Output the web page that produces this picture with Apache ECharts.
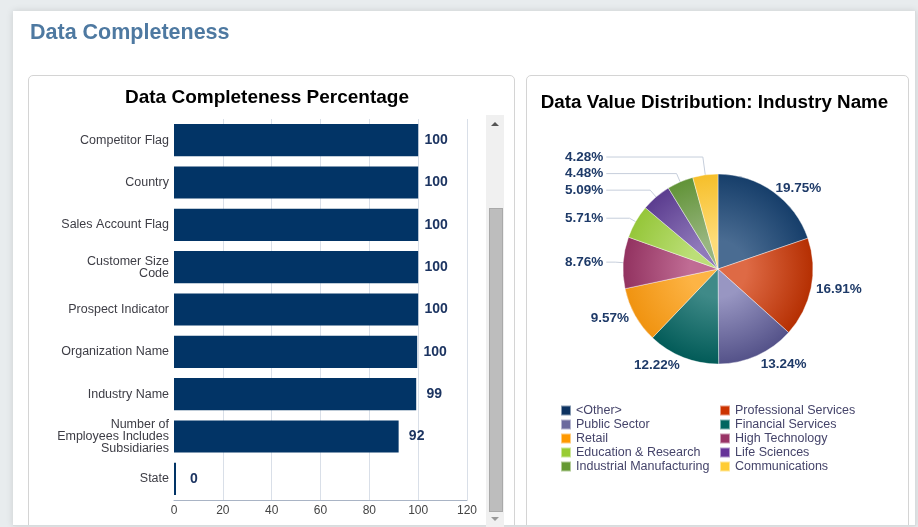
<!DOCTYPE html>
<html>
<head>
<meta charset="utf-8">
<script src="https://cdn.jsdelivr.net/npm/echarts@6/dist/echarts.min.js"></script>
<style>
html,body{margin:0;padding:0;width:918px;height:527px;overflow:hidden;background:#e8ecee;}
#card{position:absolute;left:13px;top:11px;width:902px;height:514px;background:#fff;box-shadow:0 0 7px rgba(0,0,0,0.13);border-right:1px solid #d8dcde;border-bottom:1px solid #d8dcde;overflow:hidden;}
.panel{position:absolute;top:64px;height:490px;border:1px solid #d4d4d4;border-radius:5px;background:#fff;}
#p1{left:15px;width:485px;}
#p2{left:513px;width:381px;}
#track{position:absolute;left:486px;top:115px;width:18px;height:420px;background:#f0f0f0;}
#thumb{position:absolute;left:489px;top:208px;width:12px;height:302px;background:#bdbdbd;border:1px solid #a9a9a9;}
.arrow{position:absolute;width:0;height:0;border-left:4px solid transparent;border-right:4px solid transparent;}
#up{left:491px;top:122px;border-bottom:4px solid #555;}
#down{left:491px;top:517px;border-top:4px solid #999;}
#chart{position:absolute;left:0;top:0;width:918px;height:527px;}
</style>
</head>
<body>
<div id="card">
  <div class="panel" id="p1"></div>
  <div class="panel" id="p2"></div>
</div>
<div id="track"></div>
<div id="thumb"></div>
<div class="arrow" id="up"></div>
<div class="arrow" id="down"></div>
<div id="chart"></div>
<script>
// ---- data ----
const categories = [
  'Competitor Flag',
  'Country',
  'Sales Account Flag',
  'Customer Size\nCode',
  'Prospect Indicator',
  'Organization Name',
  'Industry Name',
  'Number of\nEmployees Includes\nSubsidiaries',
  'State'
];
const completeness = [100, 100, 100, 100, 100, 99.6, 99.2, 92, 0];
const xTickMin = 0;
const xTickMax = 120;
const xTickStep = 20;

const industries = [
  '<Other>', 'Professional Services', 'Public Sector', 'Financial Services', 'Retail',
  'High Technology', 'Education & Research', 'Life Sciences', 'Industrial Manufacturing', 'Communications'
];
const shares = [19.75, 16.91, 13.24, 12.22, 9.57, 8.76, 5.71, 5.09, 4.48, 4.28];

// ---- styles ----
const solidColors = ['#0d3361', '#cc3300', '#6b6a9e', '#006660', '#ff9900', '#993366', '#99cc33', '#663399', '#669933', '#ffcc33'];
const gradLight = ['#4a6c92', '#de6a45', '#9896c2', '#3f8a88', '#fdb445', '#c06c94', '#bcdf78', '#8f79ba', '#98b680', '#fedc78'];
const gradDark  = ['#163e6a', '#b52f02', '#545289', '#025b58', '#f09310', '#923260', '#95c639', '#5b3c8f', '#619337', '#f6bf2a'];
// leader-line lengths per slice (style only)
const lineLen = [4, 5, 9, 9, 7, 8, 7, 9, 9, 18];
const FONT = '"Liberation Sans", Arial, Helvetica, sans-serif';
const PIE_CX = 718, PIE_CY = 269, PIE_R = 95;
const PIE_VIEW = {left: 530, top: 80, width: 380, height: 320};

const chart = echarts.init(document.getElementById('chart'), null, {renderer: 'canvas'});

const pieData = shares.map((v, i) => {
  const small = v < 9;
  return {
    name: industries[i],
    value: v,
    itemStyle: {
      color: {
        type: 'radial', x: PIE_CX, y: PIE_CY, r: PIE_R, global: true,
        colorStops: [
          {offset: 0, color: gradLight[i]},
          {offset: 0.3, color: gradLight[i]},
          {offset: 1, color: gradDark[i]}
        ]
      }
    },
    label: small
      ? {alignTo: 'edge', edgeDistance: 35, distanceToLabelLine: 3}
      : {alignTo: 'none', distanceToLabelLine: 0},
    labelLine: small
      ? {show: true, length: lineLen[i], length2: 0}
      : {show: false, length: lineLen[i], length2: 0}
  };
});

const leftCol = industries.filter((_, i) => i % 2 === 0);
const rightCol = industries.filter((_, i) => i % 2 === 1);
const legendItem = name => ({name: name, itemStyle: {color: solidColors[industries.indexOf(name)]}});
const legendBase = {
  orient: 'vertical', top: 404, itemWidth: 10, itemHeight: 10, itemGap: 1,
  icon: 'rect', selectedMode: false, padding: 0,
  textStyle: {color: '#45446a', fontSize: 12.5, fontFamily: FONT}
};

chart.setOption({
  animation: false,
  textStyle: {fontFamily: FONT},
  graphic: [
    {type: 'text', x: 30, y: 22, style: {text: 'Data Completeness', fill: '#4e79a1', fontSize: 21.5, fontWeight: 'bold', fontFamily: FONT, verticalAlign: 'top'}},
    {type: 'text', x: 267, y: 88, style: {text: 'Data Completeness Percentage', fill: '#000', fontSize: 19, fontWeight: 'bold', fontFamily: FONT, align: 'center', verticalAlign: 'top'}},
    {type: 'text', x: 714.5, y: 93, style: {text: 'Data Value Distribution: Industry Name', fill: '#000', fontSize: 18.8, fontWeight: 'bold', fontFamily: FONT, align: 'center', verticalAlign: 'top'}}
  ],
  grid: {left: 174, right: 451, top: 119, bottom: 27, containLabel: false, outerBoundsMode: 'none'},
  xAxis: {
    type: 'value', min: xTickMin, max: xTickMax, interval: xTickStep,
    axisLine: {show: true, lineStyle: {color: '#a9b4c5'}},
    axisTick: {show: false},
    axisLabel: {color: '#444', fontSize: 12, margin: 5},
    splitLine: {show: true, lineStyle: {color: ['rgba(0,0,0,0)', '#d9dfe8', '#d9dfe8', '#d9dfe8', '#d9dfe8', '#d9dfe8', '#d9dfe8'], width: 1}}
  },
  yAxis: {
    type: 'category', data: categories, inverse: true,
    axisLine: {show: false}, axisTick: {show: false},
    axisLabel: {color: '#3d3d45', fontSize: 12.5, lineHeight: 12, margin: 5}
  },
  legend: [
    Object.assign({}, legendBase, {left: 560, data: leftCol.map(legendItem)}),
    Object.assign({}, legendBase, {left: 719, data: rightCol.map(legendItem)})
  ],
  series: [
    {
      type: 'bar', data: completeness, barCategoryGap: '24%', barMinHeight: 2,
      itemStyle: {color: '#023466'},
      emphasis: {disabled: true},
      label: {
        show: true, position: 'right', distance: 18, align: 'center',
        formatter: p => String(Math.round(p.value)),
        color: '#1c3461', fontWeight: 'bold', fontSize: 14
      }
    },
    {
      type: 'pie',
      left: PIE_VIEW.left, top: PIE_VIEW.top, width: PIE_VIEW.width, height: PIE_VIEW.height,
      center: [PIE_CX - PIE_VIEW.left, PIE_CY - PIE_VIEW.top],
      radius: PIE_R, startAngle: 90, clockwise: true,
      emphasis: {disabled: true},
      itemStyle: {borderColor: 'rgba(255,255,255,0.5)', borderWidth: 0.8},
      label: {
        show: true, position: 'outside',
        formatter: p => p.value.toFixed(2) + '%',
        color: '#1e3a68', fontWeight: 'bold', fontSize: 13.5
      },
      labelLine: {lineStyle: {color: '#c6cedb', width: 1}, smooth: false},
      data: pieData
    }
  ]
});
</script>
</body>
</html>
